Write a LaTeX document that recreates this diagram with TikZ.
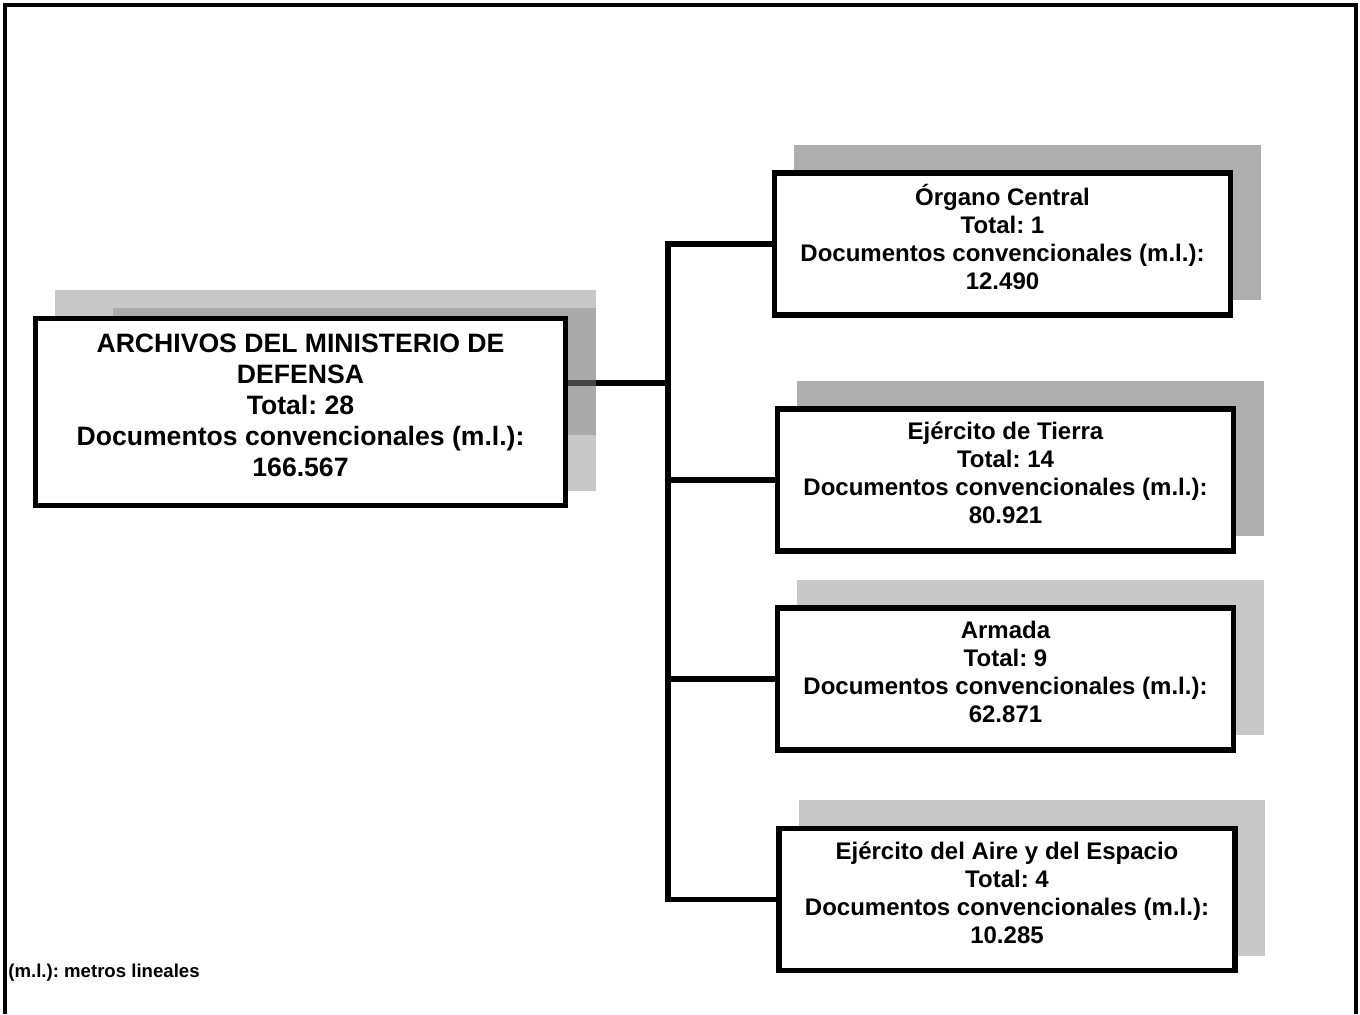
\documentclass[tikz,border=0pt]{standalone}
\usepackage{fontspec}
\setmainfont{Liberation Sans}
\usetikzlibrary{backgrounds}
\frenchspacing

\definecolor{sombraosc}{RGB}{174,174,174}
\definecolor{sombraclara}{RGB}{200,200,200}
\definecolor{bandaosc}{RGB}{139,139,139}

\tikzset{
  caja/.style={draw,line width=2.7pt,fill=white,align=center,inner sep=0pt,
    font={\bfseries\fontsize{12}{14}\selectfont},
    minimum width=228pt,minimum height=71pt,
    execute at end node={\rule[-7pt]{0pt}{0pt}}},
  cajaprin/.style={caja,font={\bfseries\fontsize{13.3}{15.5}\selectfont},
    minimum width=265pt,minimum height=93.5pt},
  linea/.style={line width=2.7pt},
}

\begin{document}
\begin{tikzpicture}[x=0.5pt,y=-0.5pt]

% ---------- parameters ----------
\def\shA{22.5}   % shadow offset, top left corner
\def\shB{-25.5}
\def\shC{27.5}   % shadow offset, bottom right corner
\def\shD{-17.5}

\useasboundingbox (0,0) rectangle (1360,1014);

% frame (open at the bottom)
\draw[line width=2pt] (5,1014) -- (5,5) -- (1356,5) -- (1356,1014);

% -------- boxes --------
\node[cajaprin] (main) at (300.5,412)
  {ARCHIVOS DEL MINISTERIO DE\\DEFENSA\\Total: 28\\Documentos convencionales (m.l.):\\166.567};

\node[caja] (c1) at (1002.5,244)
  {Órgano Central\\Total: 1\\Documentos convencionales (m.l.):\\12.490};
\node[caja] (c2) at (1005.5,480)
  {Ejército de Tierra\\Total: 14\\Documentos convencionales (m.l.):\\80.921};
\node[caja] (c3) at (1005.5,679)
  {Armada\\Total: 9\\Documentos convencionales (m.l.):\\62.871};
\node[caja] (c4) at (1007,899.5)
  {Ejército del Aire y del Espacio\\Total: 4\\Documentos convencionales (m.l.):\\10.285};

% footnote
\node[anchor=base west,inner sep=0pt,font={\bfseries\fontsize{9.3}{11}\selectfont}]
  (nota) at (8,977) {(m.l.): metros lineales};

\begin{pgfonlayer}{background}
  % shadows
  \fill[sombraclara] ([shift={(\shA,\shB)}]main.north west) rectangle ([shift={(\shC,\shD)}]main.south east);
  \fill[sombraosc] ([shift={(\shA,\shB)}]c1.north west) rectangle ([shift={(\shC,\shD)}]c1.south east);
  \fill[sombraosc] ([shift={(\shA,\shB)}]c2.north west) rectangle ([shift={(\shC,\shD)}]c2.south east);
  \fill[sombraclara] ([shift={(\shA,\shB)}]c3.north west) rectangle ([shift={(\shC,\shD)}]c3.south east);
  \fill[sombraclara] ([shift={(\shA,\shB)}]c4.north west) rectangle ([shift={(\shC,\shD)}]c4.south east);

  % connectors
  \coordinate (jn) at (668,383);
  \draw[linea] (main.east |- jn) -- (jn);
  \draw[linea] (c1.west) -- (jn |- c1.west) -- (jn |- c4.west) -- (c4.west);
  \draw[linea] (jn |- c2.west) -- (c2.west);
  \draw[linea] (jn |- c3.west) -- (c3.west);

  % darker band of the main shadow
  \fill[bandaosc,opacity=.49] ([shift={(80,-8)}]main.north west) rectangle ([shift={(\shC,-73)}]main.south east);
\end{pgfonlayer}

\end{tikzpicture}
\end{document}
